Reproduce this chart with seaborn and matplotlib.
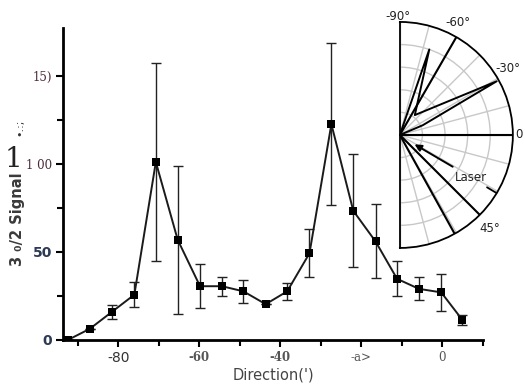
import numpy as np
import pandas as pd
import matplotlib
matplotlib.use('Agg')
import matplotlib.pyplot as plt
import seaborn as sns

# Signal vs direction
direction = [-92.4, -87, -81.5, -76, -70.7, -65.3, -59.8, -54.4, -49.1, -43.6,
             -38.3, -32.8, -27.4, -22, -16.5, -11.2, -5.8, -0.3, 4.9]
signal = [0, 6.3, 16, 25.7, 101, 56.8, 30.5, 30.5, 27.6, 20.3,
          27.6, 49.2, 122.5, 73.3, 55.9, 34.7, 29, 27, 11.4]
error = [0, 0, 4, 7, 56, 42, 12.5, 5.5, 6.5, 0, 5, 13.5, 46, 32, 21, 10, 6.5, 10.5, 3]

yticks = [0, 50, 100, 150]
ytick_labels = ['0', '50', '1 00', '15)']
xticks = [-80, -60, -40, -20, 0]
xtick_labels = ['-80', '-60', '-40', '-a>', '0']

# polar inset: lobe outline (angle deg, radius) and single rays
lobe_theta = [0, -71, -53, -29, -23, 0]
lobe_r = [0, 0.80, 0.22, 0.98, 0.22, 0]
ray_theta = [-60, 0, 45, 61]
polar_labels = ['-90°', '-60°', '-30°', '0', '45°', 'Laser']

df = pd.DataFrame({'direction': direction, 'signal': signal, 'error': error})

sns.set_style('ticks')
fig = plt.figure(figsize=(5.25, 3.85), dpi=100)
ax = fig.add_axes([0.12, 0.117, 0.80, 0.81])

ax.errorbar(df['direction'], df['signal'], yerr=df['error'], fmt='none',
            ecolor='#222222', elinewidth=1.0, capsize=3.5, capthick=1.0, zorder=2)
sns.lineplot(data=df, x='direction', y='signal', ax=ax, color='#1a1a1a',
             linewidth=1.4, marker='s', markersize=6, markeredgewidth=0,
             markerfacecolor='black', zorder=3)

ax.set_xlim(-93.6, 10)
ax.set_ylim(0, 177)
ax.set_xticks(xticks)
ax.set_xticklabels(xtick_labels)
ax.set_xticks([-90, -70, -50, -30, -10, 10], minor=True)
ax.set_yticks(yticks)
ax.set_yticklabels(ytick_labels)
ax.set_yticks([25, 75, 125], minor=True)
for s in ['top', 'right']:
    ax.spines[s].set_visible(False)
for s in ['left', 'bottom']:
    ax.spines[s].set_linewidth(2)
    ax.spines[s].set_color('black')
ax.tick_params(which='major', length=5, width=1.5, color='black', pad=3)
ax.tick_params(which='minor', length=4, width=1.5, color='black')

ylab_style = [
    dict(family='DejaVu Sans', weight='bold', color='#2c3a55', size=10),
    dict(family='DejaVu Sans', weight='bold', color='#2c3a55', size=10),
    dict(family='DejaVu Serif', weight='normal', color='#4a2a3a', size=8.5),
    dict(family='DejaVu Serif', weight='normal', color='#4a2a3a', size=8.5),
]
for t, st in zip(ax.get_yticklabels(), ylab_style):
    t.set_fontfamily(st['family'])
    t.set_fontweight(st['weight'])
    t.set_color(st['color'])
    t.set_fontsize(st['size'])
for i, t in enumerate(ax.get_xticklabels()):
    if i == 0:
        t.set_fontfamily('DejaVu Sans')
        t.set_color('#333333')
        t.set_fontsize(10)
    else:
        t.set_fontfamily('DejaVu Serif')
        t.set_fontweight('bold' if i in (1, 2) else 'normal')
        t.set_color('#555555')
        t.set_fontsize(8.5)

ax.set_xlabel("Direction(')", fontsize=10.5, color='#444444', labelpad=2)
ax.set_ylabel('')
fig.text(0.033, 0.43, '3 ₀/2 Signal', rotation=90, fontsize=10.5,
         color='#3a3a3a', weight='bold', ha='center', va='center')
fig.text(0.026, 0.585, '1', fontsize=20, family='DejaVu Serif',
         color='#222222', ha='center', va='center')
fig.text(0.036, 0.67, '•.:;', rotation=90, fontsize=8, color='#333333',
         ha='center', va='center')

# polar inset (square box; the half disk fills its middle half)
pax = fig.add_axes([0.654, 0.356, 0.4305, 0.587], projection='polar')
pax.set_theta_zero_location('E')
pax.set_theta_direction(-1)
pax.set_thetamin(-90)
pax.set_thetamax(90)
pax.set_ylim(0, 1)
pax.set_rticks([0.2, 0.4, 0.6, 0.8])
pax.set_thetagrids(np.arange(-90, 91, 15), labels=[''] * 13)
pax.set_yticklabels([])
pax.grid(True, color='#c8c8c8', linewidth=1.0)
for s in pax.spines.values():
    s.set_color('black')
    s.set_linewidth(1.3)
pax.tick_params(length=0)

pax.plot(np.deg2rad(lobe_theta), lobe_r, color='black', linewidth=1.4)
for th in ray_theta:
    pax.plot([0, np.deg2rad(th)], [0, 1], color='black', linewidth=1.5)
pax.plot([np.deg2rad(31), np.deg2rad(31)], [0.9, 1.0], color='black', linewidth=1.3)
pax.annotate('', xy=(np.deg2rad(33), 0.13), xytext=(np.deg2rad(31), 0.57),
             arrowprops=dict(arrowstyle='-|>', color='black', lw=1.4,
                             mutation_scale=10))

# inset labels placed in figure pixels
label_px = [(398, 16), (458, 22), (508, 68), (519, 135), (490, 228), (471, 178)]
for lab, (px, py) in zip(polar_labels, label_px):
    fig.text(px / 525, 1 - py / 385, lab, fontsize=8.5, color='#222222',
             ha='center', va='center')

fig.savefig('out.png', dpi=100)
